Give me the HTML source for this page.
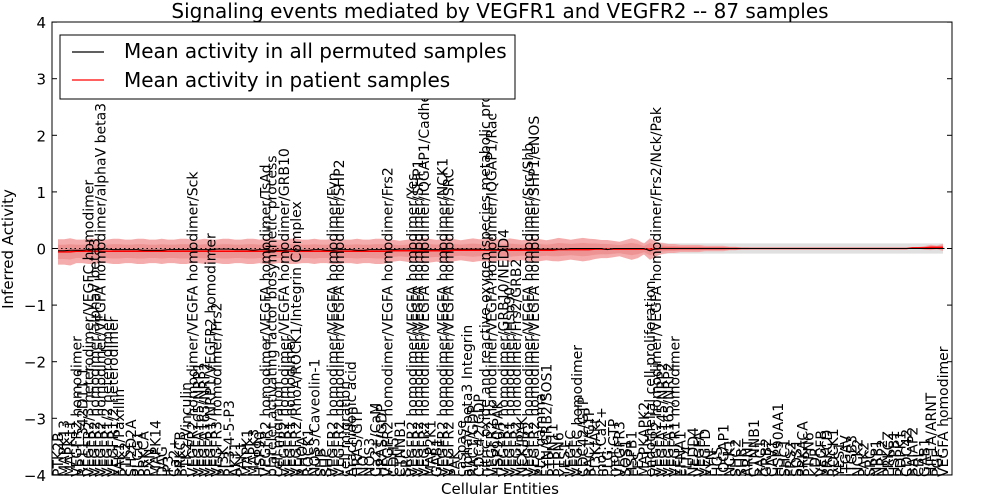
<!DOCTYPE html>
<html><head><meta charset="utf-8"><style>
html,body{margin:0;padding:0;background:#fff;}
svg{display:block;font-family:"DejaVu Sans","Liberation Sans",sans-serif;}
</style></head><body>
<svg id="chart" width="1000" height="500" viewBox="0 0 1000 500">
<text x="500" y="18" font-size="20" text-anchor="middle">Signaling events mediated by VEGFR1 and VEGFR2 -- 87 samples</text>
<g id="bands"></g>
<g id="labels"></g>
<rect x="52" y="22" width="900" height="453" fill="none" stroke="#000" stroke-width="1"/>
<g id="yaxis"></g>
<text x="500" y="494" font-size="15" text-anchor="middle">Cellular Entities</text>
<text transform="translate(13,249) rotate(-90)" font-size="15" text-anchor="middle">Inferred Activity</text>
<g>
<rect x="60" y="35" width="455" height="64" fill="#fff" stroke="#000"/>
<line x1="72" y1="52" x2="104" y2="52" stroke="#000" stroke-width="1.2"/>
<text x="124" y="58" font-size="20">Mean activity in all permuted samples</text>
<line x1="72" y1="80" x2="104" y2="80" stroke="#f00" stroke-width="1.2"/>
<text x="124" y="87" font-size="20">Mean activity in patient samples</text>
</g>
</svg>
<script>
const labels = [
"PTK2B","MAPK13","MAPK11","VEGFR2 homodimer","RP11-342D11.1","VEGFR2/3 heterodimer/VEGFC homodimer","VEGFR2 homodimer/alphaV beta3","VEGFR2 homodimer/VEGFA homodimer/alphaV beta3","VEGFR1/2 heterodimer","VEGFR1/2 heterodimer",
"FAK1/Paxillin","PTK2","SH2D2A","PLCG1","PRKCA","PXN","MAPK14","DAG","IP3","Ca2+",
"PRKCB","PTK2/Vinculin","VEGFR2 homodimer/VEGFA homodimer/Sck","VEGFA165/NRP1","VEGFA165/NRP2","VEGFR1/NRP1/VEGFR2 homodimer","VEGFR3 homodimer/Frs2","PI3K","PI-3-4-5-P3","AKT1",
"PAK1","MAPK1","MAPK3","HSP90","VEGFR2 homodimer/VEGFA homodimer/TsAd","platelet activating factor biosynthetic process","cell migration","VEGFR2 homodimer/VEGFA homodimer/GRB10","VEGFR1 homodimer","VEGFR2/RhoA/ROCK1/Integrin Complex",
"RHOA","ROCK1","NOS3/Caveolin-1","SHB","SHC","VEGFR2 homodimer/VEGFA homodimer/Fyn","VEGFR2 homodimer/VEGFA homodimer/SHP2","cell migration","Arachidonic acid","HRAS/GTP",
"NO","NOS3","Ca2+/CaM","HRAS/GDP","VEGFR2 homodimer/VEGFA homodimer/Frs2","CDH5","CTNNB1","SRC","VEGFR2 homodimer/VEGFA homodimer/Yes","VEGFR2 homodimer/VEGFA homodimer/SHP1",
"VEGFR2 homodimer/VEGFA homodimer/IQGAP1/Cadherin","MAP2K1","GAB1","VEGFR2 homodimer/VEGFA homodimer/NCK1","VEGFR2 homodimer/VEGFA homodimer/SRC","PAK","caspase","alphaV beta3 Integrin","RAC1/GDP","CDC42/GDP",
"nitric oxide and reactive oxygen species metabolic process","VEGFR2 homodimer/VEGFA homodimer/IQGAP1/Rac","HSP90/PAK","VEGFR2 homodimer/GRB10/NEDD4","VEGFR1 homodimer/Hsp90","VEGFR2 homodimer/Frs2/GRB2","NCK/PAK","VEGFR2 homodimer/VEGFA homodimer/Src/Shb","VEGFR2 homodimer/VEGFA homodimer/SHP1/eNOS","PLC gamma",
"FYN/GRB2/SOS1","PTPN11","PTPN6","YES1","VEGFC","VEGFC homodimer","CDC42/GTP","RAC1/GTP","PI3K/Akt","mol:Ca2+",
"PLG","mol:GTP","VEGFR3","SOS1","HSPB1","FES","MAPKAPK2","endothelial cell proliferation","VEGFR2 homodimer/VEGFA homodimer/Frs2/Nck/Pak","VEGFA145/NRP2",
"VEGFA165/NRP2","VEGFR1 homodimer","EFNA1","FLT4","NEDD4","VEGFA","VEGFD","FYN","HGS","IQGAP1",
"NCK1","SHC2","SHB","ARNT","CTNNB1","RAC1","GRB2","CAV1","HSP90AA1","SHC1",
"FRS2","SOS1","PRKACA","PTPN6","KDR","VEGFB","PRKCD","ROCK1","YES1","ITGAV",
"ITGB3","NCK2","PAK2","SRC","NRP1","NRP2","PRKCZ","HSPB1","PDPK1","CDC42",
"BAIAP2","CBL","GAB1","HIF1A/ARNT","PGF","VEGFA homodimer"];
const permMean = [
-0.04,-0.04,-0.03,-0.03,-0.03,-0.02,-0.02,-0.02,-0.01,-0.02,
-0.02,-0.02,-0.02,-0.02,-0.03,-0.03,-0.03,-0.03,-0.02,-0.02,
-0.02,-0.02,-0.02,-0.02,-0.02,-0.02,-0.01,-0.01,-0.01,-0.02,
-0.02,-0.02,-0.03,-0.02,-0.02,-0.03,-0.03,-0.03,-0.02,-0.02,
-0.03,-0.03,-0.02,-0.02,-0.03,-0.03,-0.02,-0.02,-0.02,-0.03,
-0.03,-0.02,-0.02,-0.02,-0.02,-0.02,-0.01,-0.01,-0.01,-0.01,
-0.02,-0.02,-0.02,-0.02,-0.01,-0.01,-0.01,-0.01,-0.01,-0.01,
-0.02,-0.02,-0.02,-0.01,-0.01,-0.01,-0.01,-0.01,-0.01,-0.01,
-0.01,-0.01,-0.01,-0.01,0,0,0,0,0,0,
-0.02,0,0,0,0,0,0,-0.04,0,0,
0,0,0,0,0,0,0,0,0,0,
0,0,0,0,0,0,0,0,0,0,
0,0,0,0,0,0,0,0,0,0,
0,0,0,0,0,0,0,0,0,0,
0,0,0,0,0,0];
const patMean = [
-0.06,-0.06,-0.06,-0.05,-0.05,-0.05,-0.05,-0.05,-0.05,-0.05,
-0.05,-0.05,-0.05,-0.05,-0.05,-0.05,-0.05,-0.05,-0.05,-0.05,
-0.05,-0.05,-0.05,-0.05,-0.05,-0.05,-0.05,-0.05,-0.05,-0.05,
-0.05,-0.05,-0.05,-0.05,-0.05,-0.05,-0.05,-0.05,-0.05,-0.05,
-0.05,-0.05,-0.05,-0.05,-0.05,-0.05,-0.05,-0.05,-0.05,-0.05,
-0.05,-0.05,-0.05,-0.05,-0.05,-0.04,-0.04,-0.04,-0.04,-0.04,
-0.04,-0.04,-0.04,-0.04,-0.04,-0.03,-0.03,-0.03,-0.03,-0.03,
-0.03,-0.03,-0.03,-0.03,-0.03,-0.03,-0.03,-0.03,-0.03,-0.03,
-0.03,-0.03,-0.02,-0.02,-0.02,-0.02,-0.02,-0.02,-0.01,-0.01,
-0.01,-0.01,-0.01,-0.01,-0.01,-0.01,-0.01,-0.01,-0.01,0,
0,0,0,0,0,0,0,0,0,0,
0,0,0,0,0,0,0,0,0,0,
0,0,0,0,0,0,0,0,0,0,
0,0,0,0,0,0,0,0,0,0,
0.01,0.01,0.01,0.02,0.02,0.02];
const patStd = [
0.14,0.14,0.15,0.13,0.13,0.14,0.14,0.13,0.13,0.14,
0.14,0.13,0.13,0.14,0.14,0.13,0.13,0.14,0.13,0.13,
0.14,0.14,0.13,0.13,0.14,0.13,0.13,0.14,0.14,0.13,
0.13,0.14,0.14,0.13,0.14,0.14,0.13,0.13,0.14,0.14,
0.13,0.13,0.14,0.13,0.13,0.14,0.14,0.13,0.13,0.14,
0.13,0.13,0.14,0.14,0.13,0.12,0.11,0.12,0.13,0.13,
0.14,0.13,0.12,0.13,0.14,0.12,0.11,0.12,0.13,0.12,
0.12,0.13,0.12,0.11,0.13,0.12,0.11,0.12,0.13,0.12,
0.11,0.12,0.13,0.12,0.11,0.12,0.13,0.12,0.11,0.1,
0.1,0.09,0.08,0.1,0.12,0.1,0.06,0.12,0.08,0.06,
0.05,0.05,0.04,0.04,0.04,0.04,0.03,0.03,0.03,0.03,
0.02,0.02,0.01,0.01,0,0,0,0,0,0,
0,0,0,0,0,0,0,0,0,0,
0,0,0,0,0,0,0,0,0,0,
0,0.01,0.02,0.03,0.02,0.04];
const permStd = [
0.07,0.07,0.07,0.07,0.07,0.07,0.07,0.07,0.07,0.07,
0.07,0.07,0.07,0.07,0.07,0.07,0.07,0.07,0.07,0.07,
0.07,0.07,0.07,0.07,0.07,0.07,0.07,0.07,0.07,0.07,
0.07,0.07,0.07,0.07,0.07,0.07,0.07,0.07,0.07,0.07,
0.07,0.07,0.07,0.07,0.07,0.07,0.07,0.07,0.07,0.07,
0.07,0.07,0.07,0.07,0.07,0.07,0.07,0.07,0.07,0.07,
0.07,0.07,0.07,0.07,0.07,0.07,0.07,0.07,0.07,0.07,
0.07,0.07,0.07,0.07,0.07,0.07,0.07,0.07,0.07,0.07,
0.07,0.07,0.07,0.07,0.07,0.07,0.07,0.07,0.07,0.07,
0.07,0.07,0.07,0.07,0.07,0.07,0.07,0.07,0.07,0.07,
0.06,0.06,0.06,0.06,0.06,0.06,0.06,0.06,0.06,0.06,
0.06,0.06,0.06,0.06,0.06,0.06,0.06,0.06,0.06,0.06,
0.06,0.06,0.06,0.06,0.06,0.06,0.06,0.06,0.06,0.06,
0.06,0.06,0.06,0.06,0.06,0.06,0.06,0.06,0.06,0.06,
0.06,0.06,0.06,0.06,0.06,0.06];
const yTicks = [-4,-3,-2,-1,0,1,2,3,4];

const NS = "http://www.w3.org/2000/svg";
const N = labels.length;
const xs = i => 58 + i * (885 / (N - 1));
const ys = v => 248.5 - v * 56.6;
const val = (a, i) => (a[i] === undefined ? 0 : a[i]);
function mk(tag, attrs, parent) { const e = document.createElementNS(NS, tag); for (const k in attrs) e.setAttribute(k, attrs[k]); parent.appendChild(e); return e; }
function band(mean, sd, k) {
  let d = "";
  for (let i = 0; i < N; i++) d += (i ? "L" : "M") + xs(i).toFixed(1) + "," + ys(val(mean, i) + k * val(sd, i)).toFixed(1);
  for (let i = N - 1; i >= 0; i--) d += "L" + xs(i).toFixed(1) + "," + ys(val(mean, i) - k * val(sd, i)).toFixed(1);
  return d + "Z";
}
function line(mean) { let d = ""; for (let i = 0; i < N; i++) d += (i ? "L" : "M") + xs(i).toFixed(1) + "," + ys(val(mean, i)).toFixed(1); return d; }
const bands = document.getElementById("bands");
const g1 = mk("path", { d: band(permMean, permStd, 1.5), fill: "#e0e0e0" }, bands);


const r1 = mk("path", { d: band(patMean, patStd, 1.6), fill: "#f4a3a3", "fill-opacity": "0.9" }, bands);


const r2 = mk("path", { d: band(patMean, patStd, 0.9), fill: "#ec8a8a", "fill-opacity": "0.7" }, bands);


const z = mk("line", { x1: 52, x2: 952, y1: ys(0), y2: ys(0), stroke: "#000", "stroke-dasharray": "1.5,3", "stroke-width": 1 }, bands);


const pl = mk("path", { d: line(patMean), fill: "none", stroke: "#f00", "stroke-width": 1.5 }, bands);


const bl = mk("path", { d: line(permMean), fill: "none", stroke: "#000", "stroke-width": 1 }, bands);



const lg = document.getElementById("labels");
labels.forEach((t, i) => {
  const x = xs(i);
  const tx = mk("text", { transform: "translate(" + (x + 5).toFixed(1) + ",477) rotate(-90)", "font-size": "14" }, lg);
  tx.textContent = t;
  
  
});
const ya = document.getElementById("yaxis");
yTicks.forEach(v => {
  const y = ys(v);
  const a = mk("line", { x1: 52, x2: 57, y1: y, y2: y, stroke: "#000" }, ya);
  
  
  const b = mk("line", { x1: 947, x2: 952, y1: y, y2: y, stroke: "#000" }, ya);
  
  
  const t = mk("text", { x: 46, y: y + 6, "font-size": "15", "text-anchor": "end" }, ya);
  t.textContent = v < 0 ? "\u2212" + Math.abs(v) : String(v);
  
  
});
</script>
</body></html>
